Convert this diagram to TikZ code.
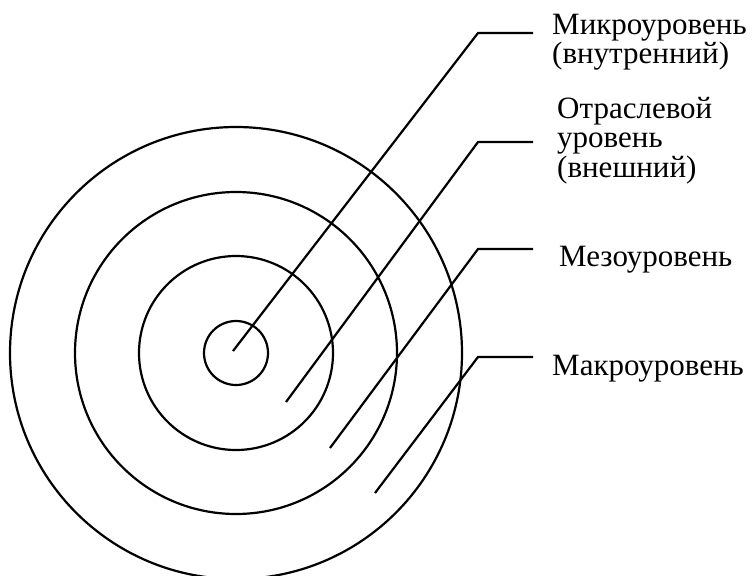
\documentclass[tikz,border=0pt]{standalone}
\usepackage{fontspec}
\setmainfont{Liberation Serif}
\begin{document}
\begin{tikzpicture}[x=1pt,y=-1pt,
  ring/.style={line width=2.2pt},
  leader/.style={line width=2.2pt},
  lbl/.style={anchor=base west,inner sep=0pt,align=left,font=\fontsize{31}{29.5}\selectfont}]
\useasboundingbox (0,0) rectangle (753,576);
\coordinate (c) at (236,353);
\draw[ring] (c) circle[radius=32];
\draw[ring] (c) circle[radius=97];
\draw[ring] (c) circle[radius=161];
\draw[ring] (c) circle[radius=226];
% leader starts and kinks
\coordinate (s1) at (233,351);
\coordinate (k1) at (478,33);
\coordinate (e1) at (533,33);
\coordinate (s2) at (286,402);
\coordinate (k2) at (478,142);
\coordinate (e2) at (533,142);
\coordinate (s3) at (330,448);
\coordinate (k3) at (478,249);
\coordinate (e3) at (533,249);
\coordinate (s4) at (375,493);
\coordinate (k4) at (478,357);
\coordinate (e4) at (533,357);
\draw[leader] (s1) -- (k1) -- (e1);
\draw[leader] (s2) -- (k2) -- (e2);
\draw[leader] (s3) -- (k3) -- (e3);
\draw[leader] (s4) -- (k4) -- (e4);
\node[lbl] (t1) at (552,63.5) {Микроуровень\\(внутренний)};
\node[lbl] (t2) at (557,177) {Отраслевой\\уровень\\(внешний)};
\node[lbl] (t3) at (559,266) {Мезоуровень};
\node[lbl] (t4) at (552,375) {Макроуровень};
\end{tikzpicture}
\end{document}
